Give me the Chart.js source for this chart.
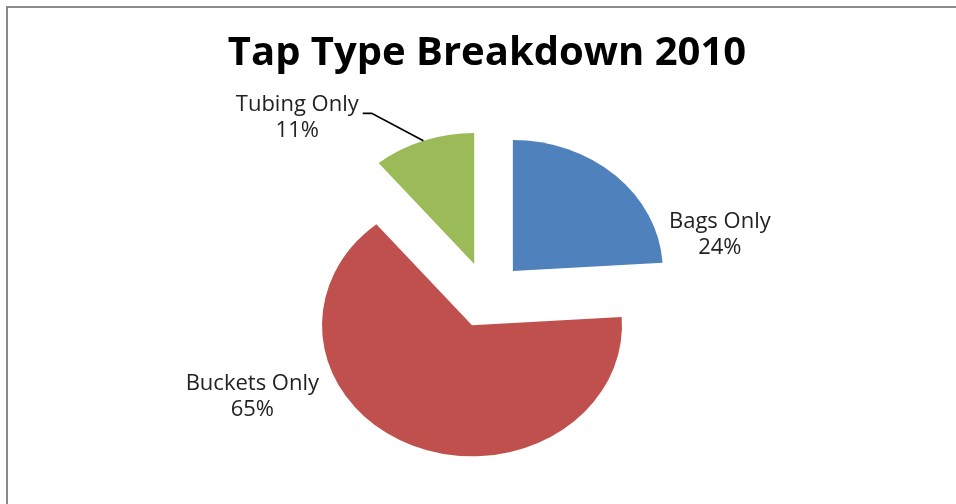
<!DOCTYPE html>
<html>
<head>
<meta charset="utf-8">
<script src="https://cdn.jsdelivr.net/npm/chart.js@4.4.1/dist/chart.umd.min.js"></script>
<style>
  html, body { margin: 0; padding: 0; background: #fff; }
  #wrap { position: relative; width: 956px; height: 504px; overflow: hidden; }
  #frame { position: absolute; left: 6px; top: 6px; right: -10px; bottom: -10px;
           border-left: 2px solid #8a8a8a; border-top: 2px solid #8a8a8a; }
  canvas { position: absolute; left: 0; top: 0; }
</style>
</head>
<body>
<div id="wrap">
  <div id="frame"></div>
  <canvas id="tapChart" width="956" height="504"></canvas>
</div>
<script>
const categories = ['Bags Only', 'Buckets Only', 'Tubing Only'];
const shares = [24, 65, 11];
const sliceColors = ['#4F81BD', '#C0504D', '#9BBB59'];

// Draws every slice pulled out along its own mid-angle, with the whole pie
// stretched sideways like the original spreadsheet picture.
const explodedPie = {
    id: 'explodedPie',
    beforeDatasetsDraw(chart, args, opts) {
        const ctx = chart.ctx;
        chart.getDatasetMeta(0).data.forEach(arc => {
            const mid = (arc.startAngle + arc.endAngle) / 2;
            ctx.save();
            ctx.translate(arc.x, arc.y);
            ctx.scale(opts.stretchX, 1);
            ctx.translate(Math.cos(mid) * opts.explode - arc.x, Math.sin(mid) * opts.explode - arc.y);
            arc.draw(ctx);
            ctx.restore();
        });
        return false;
    },
    afterDraw(chart, args, opts) {
        const ctx = chart.ctx;
        const meta = chart.getDatasetMeta(0);
        const total = shares.reduce((a, b) => a + b, 0);
        ctx.save();
        ctx.font = opts.font;
        ctx.fillStyle = opts.color;
        ctx.textAlign = 'center';
        ctx.textBaseline = 'middle';
        meta.data.forEach((arc, i) => {
            const spot = opts.spots[i];
            const a = spot[0] * Math.PI / 180;
            const x = arc.x + Math.sin(a) * spot[1] * opts.stretchX;
            const y = arc.y - Math.cos(a) * spot[1];
            const name = chart.data.labels[i];
            const pct = Math.round(shares[i] / total * 100) + '%';
            ctx.fillText(name, x, y - opts.lineHeight / 2);
            ctx.fillText(pct, x, y + opts.lineHeight / 2);

            if (opts.leaders[i]) {
                // leader from the end of the first line to the slice's outer edge
                const mid = (arc.startAngle + arc.endAngle) / 2;
                const reach = opts.explode + arc.outerRadius;
                const ex = arc.x + Math.cos(mid) * reach * opts.stretchX;
                const ey = arc.y + Math.sin(mid) * reach;
                const sx = x + ctx.measureText(name).width / 2 + 4;
                const sy = y - opts.lineHeight / 2 + 9;
                ctx.beginPath();
                ctx.strokeStyle = '#000';
                ctx.lineWidth = 1.8;
                ctx.moveTo(sx, sy);
                ctx.lineTo(sx + 9, sy);
                ctx.lineTo(ex, ey);
                ctx.stroke();
            }
        });
        ctx.restore();
    }
};

const ctx = document.getElementById('tapChart').getContext('2d');
new Chart(ctx, {
    type: 'pie',
    data: {
        labels: categories,
        datasets: [{
            data: shares,
            backgroundColor: sliceColors,
            borderWidth: 0,
            radius: 131
        }]
    },
    options: {
        responsive: false,
        animation: false,
        events: [],
        layout: { padding: { left: 18, right: 0, top: 0, bottom: 0 } },
        plugins: {
            legend: { display: false },
            tooltip: { enabled: false },
            title: {
                display: true,
                text: 'Tap Type Breakdown 2010',
                color: '#000',
                font: { family: 'Open Sans', size: 40, weight: 'bold', lineHeight: 1.2 },
                padding: { top: 30, bottom: 8 }
            },
            explodedPie: {
                stretchX: 1.145,
                explode: 33,
                font: '22px "Open Sans"',
                color: '#222',
                lineHeight: 26,
                // [angle from 12 o'clock in degrees, distance from pie centre]
                spots: [[73.6, 212], [243.5, 229], [317, 243]],
                leaders: [false, false, true]
            }
        }
    },
    plugins: [explodedPie]
});
</script>
</body>
</html>
